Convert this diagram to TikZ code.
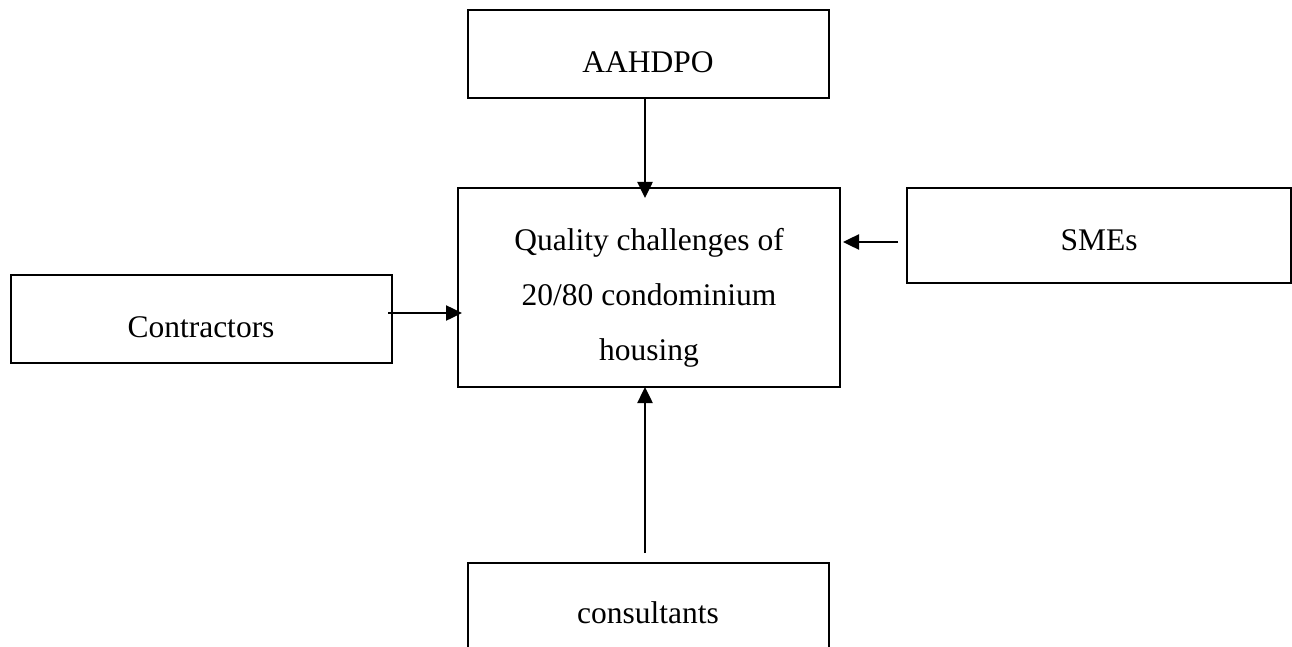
\documentclass[tikz,border=0pt]{standalone}
\usepackage{fontspec}
\setmainfont{Liberation Serif}
\usetikzlibrary{arrows.meta}
\begin{document}
\begin{tikzpicture}[x=1pt,y=-1pt,
  box/.style={draw=black, line width=2.8pt, rectangle, inner sep=0pt, outer sep=0pt},
  lbl/.style={font=\fontsize{31.5}{55}\selectfont, inner sep=0pt, anchor=base, align=center},
  arr/.style={draw=black, line width=2.5pt, -{Triangle[length=16pt,width=15pt]}}]
\useasboundingbox (0,0) rectangle (1292,647);
% boxes
\node[box, minimum width=361pt, minimum height=88pt] (aah) at (648.5,54) {};
\node[box, minimum width=382pt, minimum height=199pt] (core) at (649,287.5) {};
\node[box, minimum width=384pt, minimum height=95pt] (sme) at (1099,235.5) {};
\node[box, minimum width=381pt, minimum height=88pt] (ctr) at (201.5,319) {};
\node[box, minimum width=361pt, minimum height=92pt] (cns) at (648.5,609) {};
% texts
\node[lbl] (taah) at (648,73) {AAHDPO};
\node[lbl] (tcore) at (649,360) {Quality challenges of\\20/80 condominium\\housing};
\node[lbl] (tsme) at (1099,250) {SMEs};
\node[lbl] (tctr) at (201,337) {Contractors};
\node[lbl] (tcns) at (648,623) {consultants};
% connectors
\coordinate (a1) at ([xshift=-3.5pt]aah.south);
\draw[arr] (a1) -- ([yshift=-10pt]core.north -| a1);
\coordinate (s1) at ([xshift=-9pt,yshift=-6.5pt]sme.west);
\draw[arr] (s1) -- ([xshift=3pt]core.east |- s1);
\coordinate (c1) at ([xshift=-4pt,yshift=6pt]ctr.east);
\draw[arr] (c1) -- ([xshift=4pt]core.west |- c1);
\coordinate (k1) at ([xshift=-3.5pt,yshift=10pt]cns.north);
\draw[arr] (k1) -- (core.south -| k1);
\end{tikzpicture}
\end{document}
